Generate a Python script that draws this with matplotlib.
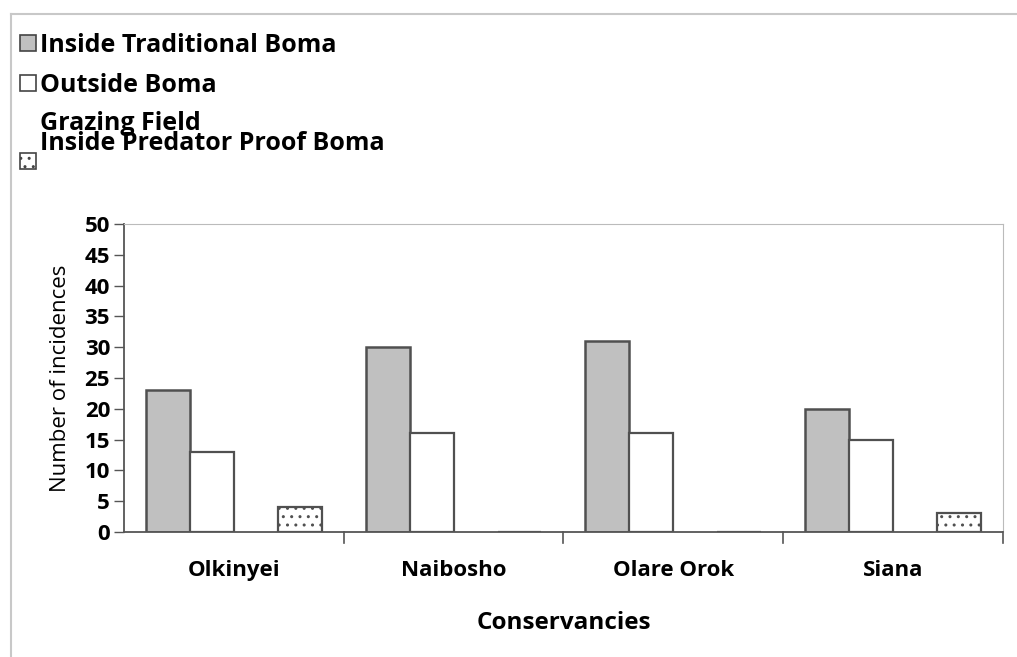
import numpy as np
import matplotlib.pyplot as plt
from matplotlib.patches import Rectangle
from matplotlib.lines import Line2D

categories = ["Olkinyei", "Naibosho", "Olare Orok", "Siana"]
series_names = ["Inside Traditional Boma", "Outside Boma", "Grazing Field",
                "Inside Predator Proof Boma"]
inside_traditional = [23, 30, 31, 20]
outside_boma = [13, 16, 16, 15]
grazing_field = [0, 0, 0, 0]
predator_proof = [4, 0, 0, 3]
y_ticks = list(range(0, 51, 5))

plt.rcParams["font.family"] = ["Open Sans", "DejaVu Sans"]
plt.rcParams["hatch.color"] = "#333333"
plt.rcParams["hatch.linewidth"] = 1.0

fig = plt.figure(figsize=(10.17, 6.57), dpi=100)
ax = fig.add_axes([0.1219, 0.1903, 0.8643, 0.4687])

x = np.arange(len(categories))
w = 0.2
edge = "#505050"
ax.bar(x - 1.5 * w, inside_traditional, w, color="#c0c0c0", edgecolor=edge, linewidth=1.8)
ax.bar(x - 0.5 * w, outside_boma, w, color="white", edgecolor=edge, linewidth=1.6)
# grazing field values are not drawn in the original
ax.bar(x + 0.5 * w, grazing_field, w, color="none", edgecolor="none", linewidth=0)
ax.bar(x + 1.5 * w, predator_proof, w, color="white", edgecolor=edge, linewidth=1.6,
       hatch="..")

ax.set_xlim(-0.5, len(categories) - 0.5)
ax.set_ylim(0, 50)
ax.set_yticks(y_ticks)
ax.set_yticklabels([str(t) for t in y_ticks], fontsize=16, fontweight="bold")
ax.set_xticks(x)
ax.set_xticklabels(categories, fontsize=16, fontweight="bold")
ax.tick_params(axis="x", length=0, pad=20)
ax.tick_params(axis="y", length=7, width=1.0, color="#555555", pad=3, direction="out")
# boundary ticks between groups
for b in np.arange(0.5, len(categories), 1.0):
    ax.plot([b, b], [0, -0.035], transform=ax.get_xaxis_transform(), color="#555555",
            linewidth=1.2, clip_on=False)

ax.spines["left"].set_color("#555555")
ax.spines["bottom"].set_color("#555555")
ax.spines["left"].set_linewidth(1.3)
ax.spines["bottom"].set_linewidth(1.3)
ax.spines["top"].set_color("#bbbbbb")
ax.spines["right"].set_color("#bbbbbb")

ax.set_ylabel("Number of incidences", fontsize=16, labelpad=10)
ax.set_xlabel("Conservancies", fontsize=17.5, fontweight="bold", labelpad=22)

# outer border lines
fig.add_artist(Line2D([11 / 1017, 1.0], [1 - 14 / 657, 1 - 14 / 657], color="#c8c8c8",
                      linewidth=1.5))
fig.add_artist(Line2D([11 / 1017, 11 / 1017], [0, 1 - 14 / 657], color="#c8c8c8",
                      linewidth=1.5))

# legend, placed by hand as in the original (the two last labels overlap there too)
def legend_box(px, py, face, hatch=None):
    r = Rectangle((px / 1017, 1 - (py + 16) / 657), 16 / 1017, 16 / 657,
                  transform=fig.transFigure, facecolor=face, edgecolor="#444444",
                  linewidth=1.2, hatch=hatch)
    fig.add_artist(r)

legend_box(20, 35, "#c0c0c0")
legend_box(20, 75, "white")
legend_box(20, 153, "white", hatch="..")
fig.text(40 / 1017, 1 - 46 / 657, series_names[0], fontsize=18, fontweight="bold",
         va="center")
fig.text(40 / 1017, 1 - 85 / 657, series_names[1], fontsize=18, fontweight="bold",
         va="center")
fig.text(40 / 1017, 1 - 123 / 657, series_names[2], fontsize=18, fontweight="bold",
         va="center")
fig.text(40 / 1017, 1 - 143 / 657, series_names[3], fontsize=18, fontweight="bold",
         va="center")

fig.savefig("out.png", dpi=100, facecolor="white")
